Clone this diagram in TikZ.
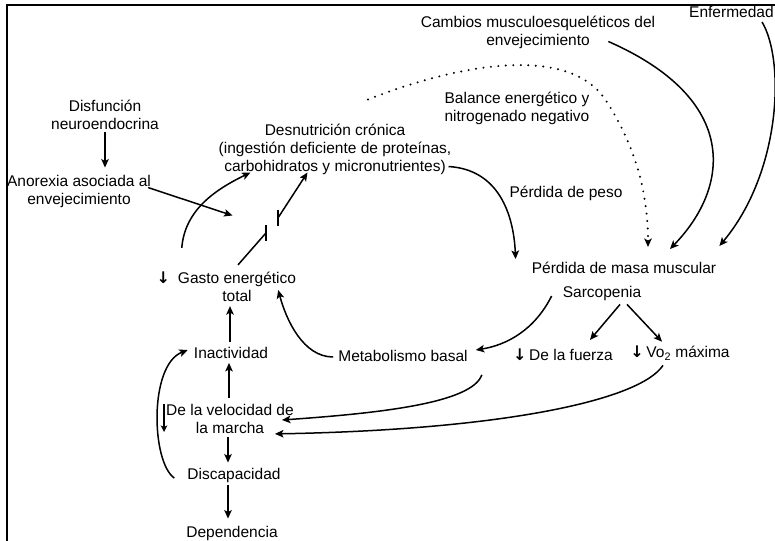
\documentclass[tikz,border=0pt]{standalone}
\usepackage{fontspec}
\setmainfont{Liberation Sans}
\newfontfamily\symfont{DejaVu Sans}
\usetikzlibrary{arrows.meta,calc}
\newcommand\myarr{{\symfont\bfseries\fontsize{16}{18}\selectfont ↓}}
\begin{document}
\begin{tikzpicture}[x=1pt,y=-1pt,
  every node/.style={font=\fontsize{15.5}{18}\selectfont, inner sep=0pt, align=center},
  tip/.style={-{Stealth[length=8.5pt,width=7.5pt,inset=2pt]}},
  conn/.style={line width=1.5pt, tip},
  plain/.style={line width=1.5pt},
  dotline/.style={line width=2.2pt, dash pattern=on 0pt off 7.5pt, line cap=round, -{Stealth[length=8.5pt,width=7.5pt,inset=2pt,line cap=butt]}}]
\useasboundingbox (0,0) rectangle (775,540);
\draw[line width=2pt] (7,542) -- (7,5) -- (777,5);

\node (cambios) at (538,32) {Cambios musculoesqueléticos del\\envejecimiento};
\node[anchor=base west] (enf) at (689,18) {Enfermedad};
\node (disf) at (105,115) {Disfunción\\neuroendocrina};
\node (anor) at (79,191) {Anorexia asociada al\\envejecimiento};
\node (desn) at (335,149) {Desnutrición crónica\\(ingestión deficiente de proteínas,\\carbohidratos y micronutrientes)};
\node (bal) at (517,108) {Balance energético y\\nitrogenado negativo};
\node (peso) at (566,193) {Pérdida de peso};
\node (masa) at (624,268) {Pérdida de masa muscular};
\node (sarc) at (602,293) {Sarcopenia};
\node (fuerza) at (571,355) {\llap{\myarr\,}De la fuerza};
\node (vo) at (688,353) {\llap{\myarr\,}Vo\textsubscript{2} máxima};
\node (metab) at (403,356) {Metabolismo basal};
\node (gasto) at (237,287) {\llap{\myarr\hspace{8pt}}Gasto energético\\total};
\node (inact) at (231,353) {Inactividad};
\node (vel) at (230,419) {De la velocidad de\\la marcha};
\node (disc) at (234,475) {Discapacidad};
\node (dep) at (232,533) {Dependencia};

% left-top cluster
\draw[conn] ($(disf.south)+(0,2)$) -- ($(anor.north -| disf.south)+(0,-7)$);
\coordinate (brk) at ($(desn.south west)+(14,41)$);
\draw[conn] ($(anor.north east)+(-3,13)$) -- (brk);
\draw[conn] ($(gasto.north west)+(4,-24)$) .. controls +(3,-38) and +(-35,17) .. ($(desn.south west)+(32,-2)$);
\coordinate (b1) at ($(gasto.north)+(29,-39)$);
\coordinate (b2) at ($(b1)+(12,-15)$);
\draw[plain] ($(gasto.north)+(1,-7)$) -- (b1);
\draw[plain] ($(b1)+(0,-8)$) -- ($(b1)+(0,8)$);
\draw[plain] ($(b2)+(0,-8)$) -- ($(b2)+(0,8)$);
\draw[conn] (b2) -- ($(desn.south west)+(89,-2)$);

% towards muscle mass loss
\draw[conn] ($(desn.south east)+(-3,-8)$) .. controls +(50,3) and +(-2,-45) .. ($(masa.north west)+(-16,-3)$);
\draw[conn] ($(cambios.south east)+(-47,-7)$) .. controls +(132,58) and +(60,-62) .. ($(masa.north)+(46,-13)$);
\draw[conn] ($(enf.base west)+(73,4)$) .. controls +(23,38) and +(62,-74) .. ($(masa.north east)+(3,-16)$);
\draw[dotline] ($(desn.north)+(33,-24)$) .. controls +(102,-40) and +(-35,-50) .. ($(bal.north east)+(15,7)$)
   .. controls +(30,45) and +(0,-55) .. ($(masa.north)+(24,-15)$);

% sarcopenia
\draw[conn] ($(sarc.west)+(-11,3)$) .. controls +(-17,34) and +(31,-5) .. ($(metab.east)+(8,-6)$);
\draw[conn] ($(sarc.south)+(18,4)$) -- ($(fuerza.north)+(19,-9)$);
\draw[conn] ($(sarc.south)+(25,4)$) -- ($(vo.north)+(-26,-4)$);

% lower left
\draw[conn] ($(metab.west)+(-5,1)$) .. controls +(-30,0) and +(8,30) .. ($(gasto.east)+(-18,3)$);
\draw[conn] ($(inact.north)+(-1,-5)$) -- ($(inact.north |- gasto.south)+(-1,4)$);
\draw[conn] ($(vel.north)+(-1,-6)$) -- ($(vel.north |- inact.south)+(-1,4)$);
\draw[conn] ($(vel.south)+(-2,3)$) -- ($(vel.south |- disc.north)+(-2,-5)$);
\draw[conn] ($(disc.south)+(-6,3)$) -- ($(disc.south |- dep.north)+(-6,-7)$);
\draw[conn] ($(disc.west)+(-13,3)$) .. controls +(-23,-16) and +(-39,15) .. ($(inact.west)+(-6,-3)$);
\draw[conn] ($(metab.south east)+(14,13)$) .. controls +(-10,28) and +(100,-7) .. ($(vel.east)+(-12,1)$);
\draw[conn] ($(vo.south)+(-25,5)$) .. controls +(-23,35) and +(227,-4) .. ($(vel.south east)+(-19,0)$);
\draw[line width=1.3pt, -{Stealth[length=6.5pt,width=6.5pt,inset=1.5pt]}] ($(vel.west)+(-2,-15)$) -- ($(vel.west)+(-2,13)$);
\end{tikzpicture}
\end{document}
